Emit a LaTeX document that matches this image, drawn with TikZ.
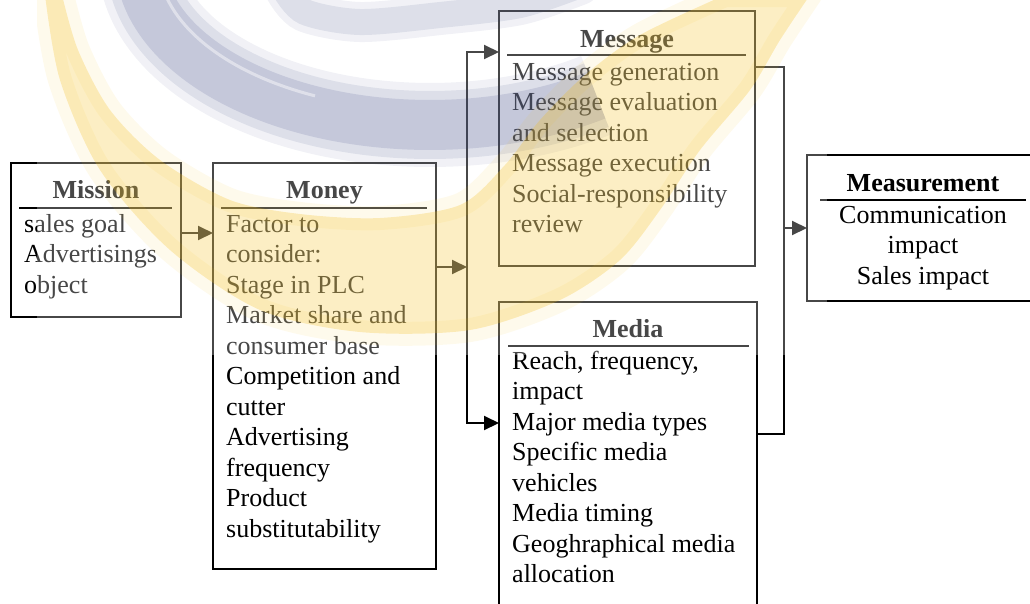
\documentclass[tikz,border=0pt]{standalone}
\usepackage{fontspec}
\setmainfont{Liberation Serif}
\usetikzlibrary{arrows.meta,calc}
\definecolor{wmblue}{RGB}{50,62,125}
\definecolor{wmyellow}{RGB}{245,190,20}
\newcommand\firststrut{\rule{0pt}{22pt}}
\begin{document}
\begin{tikzpicture}[x=1pt,y=-1pt,
  box/.style={draw=black, line width=2pt, inner sep=0pt, outer sep=0pt, anchor=north west},
  title/.style={font=\fontsize{26}{31}\selectfont\bfseries, anchor=base, inner sep=0pt},
  body/.style={font=\fontsize{26}{30.5}\selectfont, align=left, anchor=north west, inner sep=0pt},
  rulel/.style={line width=2pt},
  conn/.style={line width=2pt},
  arr/.style={conn, -{Triangle[length=15pt,width=14pt]}},
]
\useasboundingbox (0,0) rectangle (1030,603);

% boxes
\node[box, minimum width=170pt, minimum height=154pt] (mission) at (11,163) {};
\node[box, minimum width=223pt, minimum height=406pt] (money) at (213,163) {};
\node[box, minimum width=256pt, minimum height=255pt] (message) at (499,11) {};
\node[box, minimum width=258pt, minimum height=340pt] (media) at (499,302) {};
\node[box, minimum width=232pt, minimum height=146pt] (meas) at (807,155) {};

% titles and rules
\node[title] (missionT) at (96,198) {Mission};
\node[title] (moneyT) at (324.5,198) {Money};
\node[title] (messageT) at (627,47) {Message};
\node[title] (mediaT) at (628,337) {Media};
\node[title] (measT) at (923,191) {Measurement};
\draw[rulel] (19,208) -- (172,208);
\draw[rulel] (221,208) -- (427,208);
\draw[rulel] (507,55) -- (746,55);
\draw[rulel] (508,346) -- (749,346);
\draw[rulel] (820,200) -- (1026,200);

% box contents
\node[body] (missionB) at (24,210) {\firststrut sales goal\\Advertisings\\object};
\node[body] (moneyB) at (226,210) {\firststrut Factor to\\consider:\\Stage in PLC\\Market share and\\consumer base\\Competition and\\cutter\\Advertising\\frequency\\Product\\substitutability};
\node[body] (messageB) at (512,58) {\firststrut Message generation\\Message evaluation\\and selection\\Message execution\\Social-responsibility\\review};
\node[body] (mediaB) at (512,347) {\firststrut Reach, frequency,\\impact\\Major media types\\Specific media\\vehicles\\Media timing\\Geoghraphical media\\allocation};
\node[body, anchor=north, align=center] (measB) at (923,201) {\firststrut Communication\\impact\\Sales impact};

% connectors
\coordinate (a1) at ($(mission.east)+(0,-7)$);
\draw[arr] (a1) -- (a1 -| money.west);
\coordinate (b1) at (money.east |- 0,267);
\coordinate (sp) at (467,267);
\draw[arr] (b1) -- (sp);
\coordinate (msgin) at (message.west |- 0,52);
\coordinate (medin) at (media.west |- 0,423);
\draw[arr] (sp) |- (msgin);
\draw[arr] (sp) |- (medin);
\coordinate (msgout) at (message.east |- 0,67);
\coordinate (medout) at (media.east |- 0,434);
\coordinate (rs) at (784,228);
\draw[conn] (msgout) -| (rs) |- (medout);
\draw[arr] (rs) -- (meas.west);

% faded emblem laid over the upper part
\begin{scope}
  \clip (37,0) rectangle (827,355);
  \fill[white, opacity=0.28] (37,0) rectangle (827,355);
  % blue swirl
  \foreach \w/\o in {84/0.07, 68/0.1, 50/0.14}
    \draw[wmblue, line width=\w pt, opacity=\o] (141.1,-54.4) arc[start angle=185, end angle=55, x radius=290, y radius=165];
  \draw[white, line width=3pt, opacity=0.45] (159,-27) arc[start angle=175, end angle=115, x radius=272, y radius=150];
  \foreach \w/\o in {40/0.07, 26/0.1}
    \draw[wmblue, line width=\w pt, opacity=\o, line cap=round] plot[smooth] coordinates {(285,-10) (305,12) (360,22) (440,15) (520,5) (580,-15)};
  % yellow crescent
  \path[draw=wmyellow, line width=24pt, opacity=0.08, line join=round]
    plot[smooth] coordinates {(45,-5) (60,80) (100,170) (170,250) (260,310) (360,332) (470,330) (560,300) (620,260) (660,210) (700,150) (750,90) (780,40) (810,-5)}
    -- plot[smooth] coordinates {(725,-5) (640,35) (585,75) (540,120) (505,165) (460,205) (380,218) (300,214) (230,200) (160,160) (110,110) (78,50) (62,-5)} -- cycle;
  \path[fill=wmyellow, opacity=0.25]
    plot[smooth] coordinates {(45,-5) (60,80) (100,170) (170,250) (260,310) (360,332) (470,330) (560,300) (620,260) (660,210) (700,150) (750,90) (780,40) (810,-5)}
    -- plot[smooth] coordinates {(725,-5) (640,35) (585,75) (540,120) (505,165) (460,205) (380,218) (300,214) (230,200) (160,160) (110,110) (78,50) (62,-5)} -- cycle;
\end{scope}
\end{tikzpicture}
\end{document}
